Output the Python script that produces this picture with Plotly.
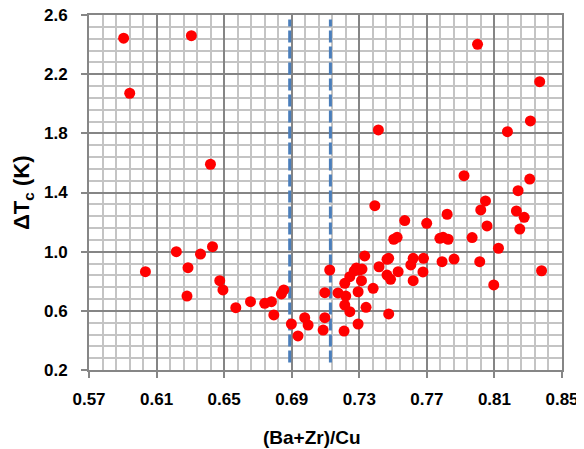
import plotly.graph_objects as go

# Data
ratio_ba_zr_cu = [
    0.5905, 0.5941, 0.6306, 0.6419, 0.6034, 0.6217, 0.6286, 0.6280, 0.6360, 0.6431,
    0.6474, 0.6493, 0.6569, 0.6656, 0.6740, 0.6780, 0.6794, 0.6839, 0.6853, 0.6898,
    0.6937, 0.6977, 0.6997, 0.7086, 0.7096, 0.7096, 0.7125, 0.7174, 0.7210, 0.7214,
    0.7220, 0.7214, 0.7244, 0.7244, 0.7293, 0.7293, 0.7313, 0.7300, 0.7270, 0.7283,
    0.7316, 0.7340, 0.7332, 0.7382, 0.7392, 0.7413, 0.7417, 0.7464, 0.7474, 0.7485,
    0.7464, 0.7474, 0.7504, 0.7524, 0.7530, 0.7569, 0.7605, 0.7619, 0.7619, 0.7680,
    0.7677, 0.7699, 0.7777, 0.7796, 0.7826, 0.7790, 0.7820, 0.7861, 0.7920, 0.7968,
    0.8000, 0.8013, 0.8019, 0.8047, 0.8056, 0.8096, 0.8124, 0.8177, 0.8230, 0.8240,
    0.8250, 0.8276, 0.8309, 0.8313, 0.8368, 0.8379,
]
delta_tc = [
    2.443, 2.071, 2.460, 1.591, 0.865, 1.000, 0.892, 0.700, 0.984, 1.034,
    0.804, 0.741, 0.621, 0.662, 0.651, 0.662, 0.572, 0.714, 0.741, 0.511,
    0.430, 0.554, 0.504, 0.470, 0.554, 0.723, 0.876, 0.721, 0.463, 0.639,
    0.700, 0.786, 0.594, 0.831, 0.511, 0.729, 0.804, 0.876, 0.870, 0.890,
    0.882, 0.624, 0.971, 0.752, 1.311, 1.823, 0.898, 0.842, 0.579, 0.813,
    0.948, 0.955, 1.084, 1.097, 0.865, 1.210, 0.910, 0.955, 0.804, 0.955,
    0.863, 1.192, 1.090, 1.097, 1.084, 0.932, 1.253, 0.950, 1.514, 1.095,
    2.402, 0.932, 1.282, 1.343, 1.174, 0.775, 1.023, 1.811, 1.275, 1.412,
    1.153, 1.232, 1.491, 1.884, 2.149, 0.871,
]

# Vertical dashed guide lines (x positions and vertical extent)
guide_x = [0.6888, 0.7129]
guide_y = [0.25, 2.57]

x_ticks = [0.57, 0.61, 0.65, 0.69, 0.73, 0.77, 0.81, 0.85]
y_ticks = [0.2, 0.6, 1.0, 1.4, 1.8, 2.2, 2.6]

FONT = "Liberation Sans, Arial, sans-serif"

fig = go.Figure()

for gx in guide_x:
    fig.add_trace(go.Scatter(
        x=[gx, gx], y=guide_y, mode="lines",
        line=dict(color="#4a7ebb", width=3, dash="12px,4px"),
        hoverinfo="skip", showlegend=False,
    ))

fig.add_trace(go.Scatter(
    x=ratio_ba_zr_cu, y=delta_tc, mode="markers",
    marker=dict(color="#ff0000", size=11, line=dict(width=0)),
    showlegend=False,
))

axis_font = dict(family=FONT, size=17, color="#000000")

# The page body has an 8px margin, so the figure is sized to fit the window
fig.update_layout(
    width=576, height=441,
    margin=dict(l=81, r=22, t=7, b=79),
    paper_bgcolor="white", plot_bgcolor="white",
    font=dict(family=FONT, color="#000000"),
    xaxis=dict(
        range=[0.57, 0.85], tickvals=x_ticks,
        ticktext=[f"<b>{v:.2f}</b>" for v in x_ticks],
        tickfont=axis_font, automargin=False, ticklabelstandoff=7,
        ticklabeloverflow="allow",
        showgrid=True, gridcolor="#858585", gridwidth=1.5,
        minor=dict(dtick=0.008, tick0=0.57, showgrid=True, gridcolor="#c4c4c4", gridwidth=2),
        showline=True, linecolor="#868686", linewidth=2, mirror=True,
        ticks="outside", ticklen=6, tickcolor="#868686", tickwidth=1.5,
        zeroline=False,
    ),
    yaxis=dict(
        range=[0.2, 2.6], tickvals=y_ticks,
        ticktext=[f"<b>{v:.1f}</b>" for v in y_ticks],
        tickfont=axis_font, automargin=False, ticklabelstandoff=10,
        ticklabeloverflow="allow",
        showgrid=True, gridcolor="#858585", gridwidth=1.5,
        minor=dict(dtick=0.08, tick0=0.2, showgrid=True, gridcolor="#c4c4c4", gridwidth=2),
        showline=True, linecolor="#868686", linewidth=2, mirror=True,
        ticks="outside", ticklen=6, tickcolor="#868686", tickwidth=1.5,
        zeroline=False,
    ),
    annotations=[
        dict(text="<b>(Ba+Zr)/Cu</b>", xref="paper", yref="paper",
             x=(312 - 89) / (562 - 89), y=-(437 - 370) / (370 - 15),
             xanchor="center", yanchor="middle", showarrow=False,
             font=dict(family=FONT, size=19, color="#000000")),
        dict(text="<b>ΔT<sub>c</sub> (K)</b>", xref="paper", yref="paper",
             x=-(89 - 23) / (562 - 89), y=(370 - 193) / (370 - 15),
             xanchor="center", yanchor="middle", textangle=-90, showarrow=False,
             font=dict(family=FONT, size=22, color="#000000")),
    ],
)

fig.write_html("out.html")
